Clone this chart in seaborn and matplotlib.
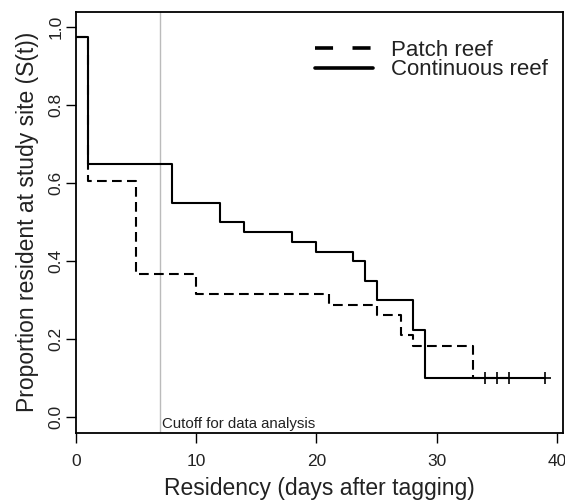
import matplotlib
matplotlib.use("Agg")
import matplotlib.pyplot as plt
import seaborn as sns
import pandas as pd

# Data (Kaplan-Meier step curves)
cont_times = [0, 1, 8, 12, 14, 18, 20, 23, 24, 25, 28, 29, 39]
cont_surv = [0.975, 0.65, 0.55, 0.5, 0.475, 0.45, 0.425, 0.4, 0.35, 0.3, 0.225, 0.1, 0.1]
patch_times = [0, 1, 5, 10, 21, 25, 27, 28, 33, 36]
patch_surv = [0.974, 0.605, 0.368, 0.316, 0.289, 0.263, 0.21, 0.184, 0.1, 0.1]
censor_times = [34, 35, 36, 39]
censor_surv = [0.1, 0.1, 0.1, 0.1]
cutoff_day = 7
x_ticks = [0, 10, 20, 30, 40]
y_ticks = [0.0, 0.2, 0.4, 0.6, 0.8, 1.0]

sns.set_theme(style="white")
plt.rcParams['font.family'] = ['Liberation Sans', 'DejaVu Sans']
plt.rcParams['lines.scale_dashes'] = False

fig = plt.figure(figsize=(5.65, 5.03), dpi=100)
ax = fig.add_axes([76/565, 1 - 433/503, (563-76)/565, (433-11.7)/503])

cont_df = pd.DataFrame({"time": cont_times, "surv": cont_surv})
patch_df = pd.DataFrame({"time": patch_times, "surv": patch_surv})
cens_df = pd.DataFrame({"time": censor_times, "surv": censor_surv})

ax.axvline(cutoff_day, color="#bbbbbb", lw=1.0, zorder=1)

sns.lineplot(data=patch_df, x="time", y="surv", ax=ax, drawstyle="steps-post",
             estimator=None, color="black", lw=1.5, linestyle=(0, (7.0, 3.8)),
             label="Patch reef")
sns.lineplot(data=cont_df, x="time", y="surv", ax=ax, drawstyle="steps-post",
             estimator=None, color="black", lw=1.5, label="Continuous reef")
sns.scatterplot(data=cens_df, x="time", y="surv", ax=ax, marker="+", s=64,
                color="black", linewidth=1.2, zorder=5, legend=False)

ax.text(cutoff_day + 0.15, -0.027, "Cutoff for data analysis", fontsize=10.8,
        ha="left", va="baseline", color="#222222")

ax.set_xlim(0, 40.5)
ax.set_ylim(-0.04, 1.04)
ax.set_xticks(x_ticks)
ax.set_yticks(y_ticks)
ax.set_xticklabels([str(t) for t in x_ticks])
ax.set_yticklabels([f"{t:.1f}" for t in y_ticks], rotation=90, va="center")
ax.tick_params(axis="both", direction="out", length=7, width=1, color="black",
               labelsize=12.5, labelcolor="#222222", left=True, bottom=True)
ax.tick_params(axis="x", pad=8)
ax.tick_params(axis="y", pad=2)
for sp in ax.spines.values():
    sp.set_color("black")
    sp.set_linewidth(1.3)

ax.set_xlabel("Residency (days after tagging)", fontsize=16.5, color="#222222", labelpad=6)
ax.set_ylabel("Proportion resident at study site (S(t))", fontsize=16.5, color="#222222", labelpad=7)

leg = ax.legend(loc="upper left", bbox_to_anchor=(0.491, 0.934), frameon=False,
                fontsize=16, handlelength=2.6, handletextpad=0.8, labelspacing=-0.05,
                borderaxespad=0.0, borderpad=0.0)
for t in leg.get_texts():
    t.set_color("#222222")
lines = leg.get_lines()
for h in lines:
    h.set_linewidth(2.6)
lines[0].set_linestyle((0, (13, 14)))

fig.savefig("out.png", dpi=100)
